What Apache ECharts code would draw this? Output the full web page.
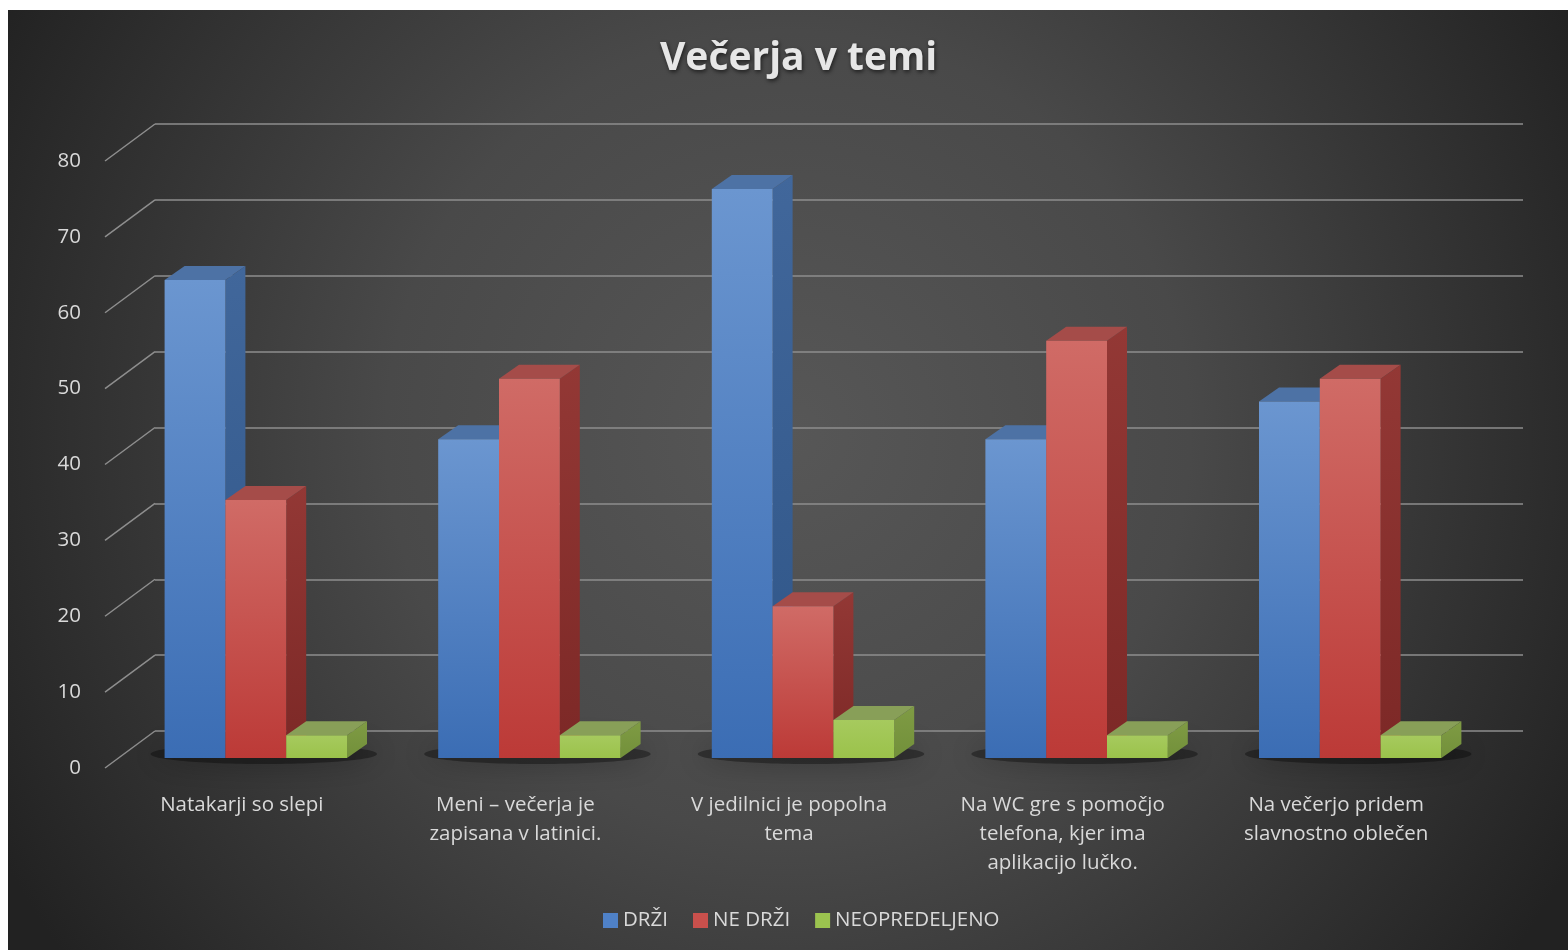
<!DOCTYPE html>
<html><head><meta charset="utf-8">
<script src="https://cdn.jsdelivr.net/npm/echarts@6/dist/echarts.min.js"></script>
<style>html,body{margin:0;padding:0;background:#fff;overflow:hidden;} #c{width:1568px;height:950px;}</style>
</head><body><div id="c"></div>
<script>
// ---- data ----
const categories = [
  'Natakarji so slepi',
  'Meni – večerja je\nzapisana v latinici.',
  'V jedilnici je popolna\ntema',
  'Na WC gre s pomočjo\ntelefona, kjer ima\naplikacijo lučko.',
  'Na večerjo pridem\nslavnostno oblečen'
];
const seriesNames = ['DRŽI', 'NE DRŽI', 'NEOPREDELJENO'];
const drzi = [63, 42, 75, 42, 47];
const neDrzi = [34, 50, 20, 55, 50];
const neopredeljeno = [3, 3, 5, 3, 3];
const yTicks = [0, 10, 20, 30, 40, 50, 60, 70, 80];

// ---- styling ----
const WALL_DX = 50, WALL_DY = 37;     // front axis plane -> back wall
const BAR_DX = -36, BAR_DY = 27;      // back wall -> bar front face
const DEPTH_X = 20, DEPTH_Y = -14;    // bar depth
const palettes = [
  {legend:'#4f81c7', front:['#6b96d0','#3b6db4'], side:['#41679b','#2f5587'], top:'#4d72a5'},
  {legend:'#c9504c', front:['#d06b66','#bc3a37'], side:['#933835','#7c2826'], top:'#a54c49'},
  {legend:'#9bc34f', front:['#a6ca5e','#9bc24b'], side:['#7f9b44','#72903a'], top:'#889f58'}
];
const allValues = [drzi, neDrzi, neopredeljeno];

function vgrad(c){ return new echarts.graphic.LinearGradient(0,0,0,1,[{offset:0,color:c[0]},{offset:1,color:c[1]}]); }

function barRender(sIdx){
  return function(params, api){
    const c = api.value(0), v = api.value(1);
    const base = api.coord([c, 0]);
    const top = api.coord([c, v]);
    const bw = api.size([1, 0])[0];
    const w = bw / 4.5;
    const x0 = base[0] - 1.5 * w + sIdx * w + BAR_DX;
    const yB = base[1] + BAR_DY, yT = top[1] + BAR_DY;
    const p = palettes[sIdx];
    return {
      type: 'group',
      children: [
        {type:'polygon', shape:{points:[[x0+w,yT],[x0+w+DEPTH_X,yT+DEPTH_Y],[x0+w+DEPTH_X,yB+DEPTH_Y],[x0+w,yB]]}, style:{fill:vgrad(p.side)}},
        {type:'polygon', shape:{points:[[x0,yT],[x0+DEPTH_X,yT+DEPTH_Y],[x0+w+DEPTH_X,yT+DEPTH_Y],[x0+w,yT]]}, style:{fill:p.top}},
        {type:'rect', shape:{x:x0, y:yT, width:w, height:yB-yT}, style:{fill:vgrad(p.front)}}
      ]
    };
  };
}

const chart = echarts.init(document.getElementById('c'), null, {renderer:'canvas'});
const labelColor = '#d9d9d9';
const font = '"Open Sans", "DejaVu Sans", sans-serif';

const option = {
  animation: false,
  graphic: [{
    type: 'rect', z: -10, silent: true,
    shape: {x: 8, y: 10, width: 1560, height: 940},
    style: {fill: new echarts.graphic.RadialGradient(0.5, 0.45, 0.95, [
      {offset: 0, color: '#575757'}, {offset: 0.45, color: '#494949'}, {offset: 1, color: '#222222'}
    ])}
  }],
  title: {
    text: 'Večerja v temi', left: 655, top: 34,
    textStyle: {color: '#e6e6e6', fontSize: 39, fontWeight: 'bold', fontFamily: font,
      textShadowColor: 'rgba(0,0,0,0.6)', textShadowBlur: 4, textShadowOffsetX: 1, textShadowOffsetY: 2}
  },
  legend: {
    data: seriesNames, left: 598, top: 905, icon: 'rect', itemWidth: 15, itemHeight: 15, itemGap: 25,
    textStyle: {color: labelColor, fontSize: 20.5, fontFamily: font}
  },
  grid: [
    {left: 155, right: 45, top: 124, bottom: 219},
    {left: 155 - WALL_DX, right: 45 + WALL_DX, top: 124 + WALL_DY, bottom: 219 - WALL_DY}
  ],
  xAxis: [
    {type: 'category', gridIndex: 0, data: categories, axisLine: {show: false}, axisTick: {show: false}, axisLabel: {show: false}},
    {type: 'category', gridIndex: 1, data: categories, axisLine: {show: false}, axisTick: {show: false},
      axisLabel: {color: labelColor, fontSize: 20.5, lineHeight: 29, margin: 23, fontFamily: font, interval: 0}}
  ],
  yAxis: [
    {type: 'value', gridIndex: 0, min: 0, max: 80, interval: 10, axisLabel: {show: false},
      axisLine: {show: false}, axisTick: {show: false}, splitLine: {lineStyle: {color: '#8e8e8e', width: 1.5}}},
    {type: 'value', gridIndex: 1, min: 0, max: 80, interval: 10, axisLine: {show: false}, axisTick: {show: false},
      splitLine: {show: false}, axisLabel: {color: labelColor, fontSize: 20.5, margin: 24, fontFamily: font}}
  ],
  series: [
    {
      type: 'custom', name: 'diag', xAxisIndex: 0, yAxisIndex: 0, silent: true, z: 1,
      data: yTicks.map(v => [0, v]),
      renderItem: function(params, api){
        const p = api.coord([0, api.value(1)]);
        const x = params.coordSys.x;
        return {type: 'line', shape: {x1: x - WALL_DX, y1: p[1] + WALL_DY, x2: x, y2: p[1]},
          style: {stroke: '#8e8e8e', lineWidth: 1.5}};
      }
    },
    {
      type: 'custom', name: 'shadow', xAxisIndex: 0, yAxisIndex: 0, silent: true, z: 2,
      data: categories.map((c, i) => [i, 0]),
      renderItem: function(params, api){
        const base = api.coord([api.value(0), 0]);
        const bw = api.size([1, 0])[0];
        const w = bw / 4.5;
        return {type: 'ellipse', shape: {cx: base[0] + BAR_DX + 8, cy: base[1] + BAR_DY - 4, rx: 1.5 * w + 22, ry: 10},
          style: {fill: 'rgba(0,0,0,0.35)', shadowColor: 'rgba(0,0,0,0.85)', shadowBlur: 28}};
      }
    }
  ].concat(seriesNames.map((name, s) => ({
    type: 'custom', name: name, xAxisIndex: 0, yAxisIndex: 0, z: 3 + s,
    itemStyle: {color: palettes[s].legend},
    data: allValues[s].map((v, i) => [i, v]),
    encode: {x: 0, y: 1},
    renderItem: barRender(s)
  })))
};
chart.setOption(option);
</script>
</body></html>
